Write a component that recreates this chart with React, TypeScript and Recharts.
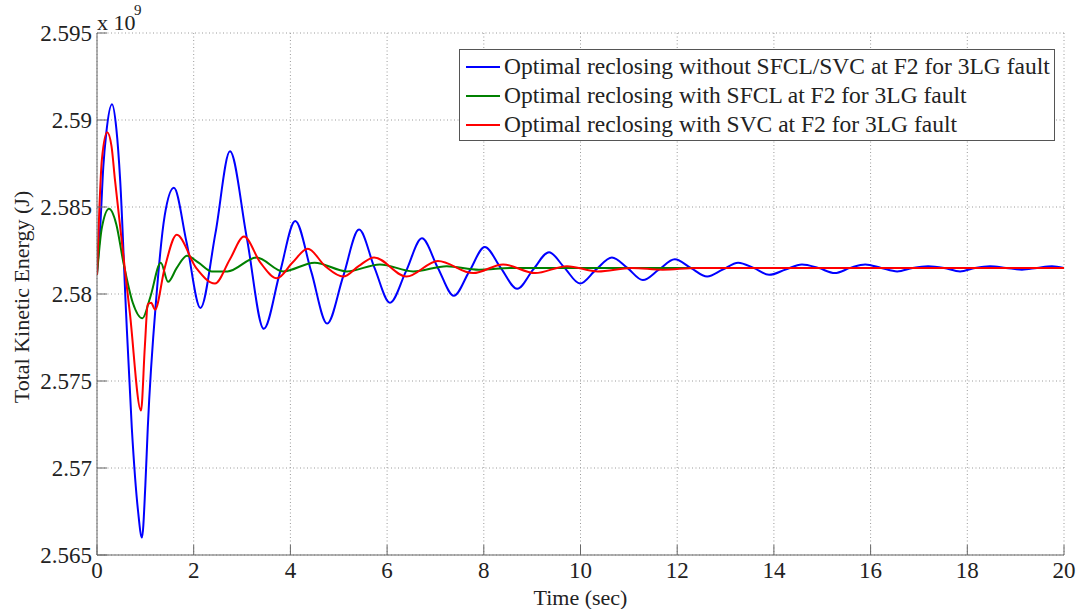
import { LineChart, Line, XAxis, YAxis, CartesianGrid } from 'recharts';

// values in units of 1e9 J, time in seconds
const withoutSfclSvc = [
    { t: 0, v: 2.5812 }, { t: 0.07, v: 2.584 }, { t: 0.13, v: 2.5873 }, { t: 0.19, v: 2.5892 },
    { t: 0.31, v: 2.5909 }, { t: 0.4, v: 2.5895 }, { t: 0.48, v: 2.5865 }, { t: 0.6, v: 2.579 },
    { t: 0.72, v: 2.5723 }, { t: 0.85, v: 2.5675 }, { t: 0.93, v: 2.566 }, { t: 1.0, v: 2.569 },
    { t: 1.05, v: 2.5723 }, { t: 1.23, v: 2.5799 }, { t: 1.4, v: 2.5845 }, { t: 1.59, v: 2.5861 },
    { t: 1.85, v: 2.583 }, { t: 2.14, v: 2.5792 }, { t: 2.45, v: 2.5835 }, { t: 2.75, v: 2.5882 },
    { t: 3.1, v: 2.5832 }, { t: 3.45, v: 2.578 }, { t: 3.78, v: 2.5812 }, { t: 4.1, v: 2.5842 },
    { t: 4.43, v: 2.5813 }, { t: 4.76, v: 2.5783 }, { t: 5.09, v: 2.581 }, { t: 5.42, v: 2.5837 },
    { t: 5.74, v: 2.5815 }, { t: 6.06, v: 2.5795 }, { t: 6.39, v: 2.5813 }, { t: 6.72, v: 2.5832 },
    { t: 7.05, v: 2.5815 }, { t: 7.38, v: 2.5799 }, { t: 7.7, v: 2.5813 }, { t: 8.02, v: 2.5827 },
    { t: 8.35, v: 2.5815 }, { t: 8.69, v: 2.5803 }, { t: 9.02, v: 2.5814 }, { t: 9.35, v: 2.5824 },
    { t: 9.67, v: 2.5815 }, { t: 9.99, v: 2.5806 }, { t: 10.32, v: 2.5814 }, { t: 10.65, v: 2.5821 },
    { t: 10.97, v: 2.5815 }, { t: 11.29, v: 2.5808 }, { t: 11.62, v: 2.5814 }, { t: 11.95, v: 2.582 },
    { t: 12.28, v: 2.5815 }, { t: 12.62, v: 2.581 }, { t: 12.94, v: 2.5814 }, { t: 13.26, v: 2.5818 },
    { t: 13.58, v: 2.5815 }, { t: 13.9, v: 2.5811 }, { t: 14.24, v: 2.5814 }, { t: 14.58, v: 2.5817 },
    { t: 14.92, v: 2.5815 }, { t: 15.26, v: 2.5812 }, { t: 15.58, v: 2.5815 }, { t: 15.89, v: 2.5817 },
    { t: 16.22, v: 2.5815 }, { t: 16.55, v: 2.5813 }, { t: 16.87, v: 2.5815 }, { t: 17.19, v: 2.5816 },
    { t: 17.52, v: 2.5815 }, { t: 17.85, v: 2.5813 }, { t: 18.16, v: 2.5815 }, { t: 18.47, v: 2.5816 },
    { t: 18.8, v: 2.5815 }, { t: 19.13, v: 2.5814 }, { t: 19.44, v: 2.5815 }, { t: 19.75, v: 2.5816 },
    { t: 20, v: 2.5815 },
];

const withSfcl = [
    { t: 0, v: 2.5811 }, { t: 0.1, v: 2.5838 }, { t: 0.25, v: 2.5849 }, { t: 0.4, v: 2.584 },
    { t: 0.54, v: 2.5819 }, { t: 0.74, v: 2.5795 }, { t: 0.94, v: 2.5786 }, { t: 1.1, v: 2.5798 },
    { t: 1.32, v: 2.5818 }, { t: 1.47, v: 2.5807 }, { t: 1.65, v: 2.5815 }, { t: 1.86, v: 2.5822 },
    { t: 2.1, v: 2.5818 }, { t: 2.37, v: 2.5813 }, { t: 2.7, v: 2.5813 }, { t: 3.3, v: 2.5821 },
    { t: 3.85, v: 2.5813 }, { t: 4.5, v: 2.5818 }, { t: 5.17, v: 2.5813 }, { t: 5.85, v: 2.5817 },
    { t: 6.54, v: 2.5813 }, { t: 7.23, v: 2.5816 }, { t: 7.9, v: 2.5814 }, { t: 8.6, v: 2.5815 },
    { t: 10, v: 2.5815 }, { t: 12, v: 2.5815 }, { t: 14, v: 2.5815 }, { t: 16, v: 2.5815 },
    { t: 18, v: 2.5815 }, { t: 20, v: 2.5815 },
];

const withSvc = [
    { t: 0, v: 2.5811 }, { t: 0.05, v: 2.585 }, { t: 0.1, v: 2.5877 }, { t: 0.21, v: 2.5893 },
    { t: 0.3, v: 2.5885 }, { t: 0.37, v: 2.5866 }, { t: 0.68, v: 2.5789 }, { t: 0.91, v: 2.5733 },
    { t: 0.99, v: 2.577 }, { t: 1.05, v: 2.5794 }, { t: 1.12, v: 2.5795 }, { t: 1.2, v: 2.5791 },
    { t: 1.4, v: 2.5815 }, { t: 1.65, v: 2.5834 }, { t: 2.05, v: 2.5815 }, { t: 2.44, v: 2.5806 },
    { t: 2.75, v: 2.582 }, { t: 3.04, v: 2.5833 }, { t: 3.38, v: 2.5818 }, { t: 3.72, v: 2.5809 },
    { t: 4.04, v: 2.5818 }, { t: 4.36, v: 2.5826 }, { t: 4.72, v: 2.5816 }, { t: 5.09, v: 2.581 },
    { t: 5.41, v: 2.5816 }, { t: 5.73, v: 2.5821 }, { t: 6.4, v: 2.581 }, { t: 7.05, v: 2.5819 },
    { t: 7.78, v: 2.5812 }, { t: 8.4, v: 2.5817 }, { t: 9.06, v: 2.5812 }, { t: 9.72, v: 2.5816 },
    { t: 10.36, v: 2.5813 }, { t: 11.06, v: 2.5815 }, { t: 11.7, v: 2.5814 }, { t: 12.4, v: 2.5815 },
    { t: 14, v: 2.5815 }, { t: 16, v: 2.5815 }, { t: 18, v: 2.5815 }, { t: 20, v: 2.5815 },
];

const xTicks = [0, 2, 4, 6, 8, 10, 12, 14, 16, 18, 20];
const yTicks = [2.565, 2.57, 2.575, 2.58, 2.585, 2.59, 2.595];

const seriesNames = [
    'Optimal reclosing without SFCL/SVC at F2 for 3LG fault',
    'Optimal reclosing with SFCL at F2 for 3LG fault',
    'Optimal reclosing with SVC at F2 for 3LG fault',
];
const seriesColors = ['#0000ff', '#008000', '#ff0000'];

const FONT = "'Liberation Serif', 'Times New Roman', serif";
const AXIS = '#666666';
const tickStyle = { fill: '#222', fontSize: 23, fontFamily: FONT };

const fmtY = (v: number) => String(+v.toFixed(3));

function YLabel(props: any) {
    const vb = props.viewBox || {};
    const cx = 21;
    const cy = vb.y + vb.height / 2 + 3;
    return (
        <text x={cx} y={cy} transform={`rotate(-90 ${cx} ${cy})`} textAnchor="middle"
            dominantBaseline="central" fontSize={22} fontFamily={FONT} fill="#222">
            Total Kinetic Energy (J)
        </text>
    );
}

function XLabel(props: any) {
    const vb = props.viewBox || {};
    return (
        <text x={vb.x + vb.width / 2} y={597} textAnchor="middle" dominantBaseline="central"
            fontSize={22} fontFamily={FONT} fill="#222">
            Time (sec)
        </text>
    );
}

export default function App() {
    return (
        <div style={{ position: 'absolute', left: 0, top: 0, width: 1082, height: 609, background: '#fff' }}>
            <LineChart width={1082} height={609} data={withoutSfclSvc}
                margin={{ top: 33, right: 18, bottom: 9, left: 17 }}>
                <CartesianGrid stroke="#9a9a9a" strokeDasharray="1 2.5" />
                <XAxis dataKey="t" type="number" domain={[0, 20]} ticks={xTicks} height={45}
                    stroke={AXIS} tickSize={-10} tickMargin={17} tick={tickStyle}
                    allowDataOverflow label={<XLabel />} />
                <YAxis dataKey="v" type="number" domain={[2.565, 2.595]} ticks={yTicks} width={80}
                    stroke={AXIS} tickSize={-10} tickMargin={15} tick={tickStyle}
                    tickFormatter={fmtY} allowDataOverflow label={<YLabel />} />
                <XAxis xAxisId="top" orientation="top" type="number" dataKey="t" domain={[0, 20]}
                    ticks={xTicks} height={0} stroke={AXIS} tickSize={10} tick={() => null} />
                <YAxis yAxisId="right" orientation="right" type="number" dataKey="v"
                    domain={[2.565, 2.595]} ticks={yTicks} width={0} stroke={AXIS} tickSize={10}
                    tick={() => null} />
                <Line data={withoutSfclSvc} dataKey="v" type="monotone" stroke={seriesColors[0]}
                    strokeWidth={2} dot={false} isAnimationActive={false} />
                <Line data={withSfcl} dataKey="v" type="monotone" stroke={seriesColors[1]}
                    strokeWidth={2} dot={false} isAnimationActive={false} />
                <Line data={withSvc} dataKey="v" type="monotone" stroke={seriesColors[2]}
                    strokeWidth={2} dot={false} isAnimationActive={false} />
            </LineChart>
            <div style={{ position: 'absolute', left: 97, top: 12, fontFamily: FONT, fontSize: 22, color: '#222', lineHeight: 1, whiteSpace: 'nowrap' }}>
                x 10
            </div>
            <div style={{ position: 'absolute', left: 134, top: 3, fontFamily: FONT, fontSize: 15, color: '#222', lineHeight: 1 }}>
                9
            </div>
            <div style={{
                position: 'absolute', left: 459, top: 49, width: 596, height: 92, boxSizing: 'border-box',
                border: '1px solid #555', background: '#fff', fontFamily: FONT, fontSize: 23.5, color: '#222',
                padding: '2px 0 0 6px',
            }}>
                {seriesNames.map((n, i) => (
                    <div key={n} style={{ display: 'flex', alignItems: 'center', height: 29, whiteSpace: 'nowrap' }}>
                        <span style={{ display: 'inline-block', width: 34, height: 2, background: seriesColors[i], marginRight: 4 }} />
                        <span>{n}</span>
                    </div>
                ))}
            </div>
        </div>
    );
}
